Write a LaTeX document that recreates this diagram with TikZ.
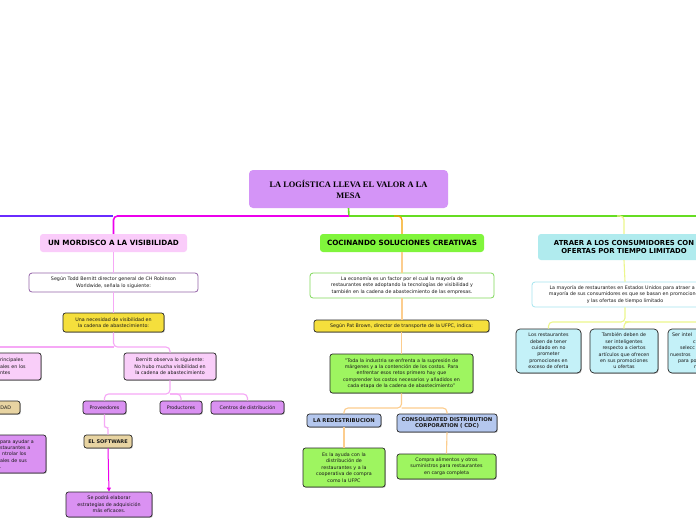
\documentclass[tikz,border=0pt]{standalone}
\usepackage{fontspec}
\setmainfont{DejaVu Sans}
\newfontfamily\titlefont{Liberation Serif}
\usetikzlibrary{shadows,arrows.meta}
\definecolor{rootfill}{RGB}{212,148,247}
\definecolor{pinkhead}{RGB}{250,204,250}
\definecolor{pinkbox}{RGB}{249,206,249}
\definecolor{purplebox}{RGB}{218,145,242}
\definecolor{tanbox}{RGB}{232,212,162}
\definecolor{yelbox}{RGB}{245,223,60}
\definecolor{greenhead}{RGB}{128,245,60}
\definecolor{greenbox}{RGB}{158,245,96}
\definecolor{bluebox}{RGB}{180,199,238}
\definecolor{cyanhead}{RGB}{176,235,238}
\definecolor{cyanbox}{RGB}{196,241,248}
\definecolor{lviolet}{RGB}{106,43,255}
\definecolor{lmag}{RGB}{236,0,236}
\definecolor{lpink}{RGB}{246,168,246}
\definecolor{lgreen}{RGB}{102,221,34}
\definecolor{lorange}{RGB}{245,160,0}
\definecolor{llorange}{RGB}{252,205,142}
\definecolor{lyellow}{RGB}{236,246,140}
\definecolor{bpurple}{RGB}{148,100,168}
\definecolor{bgreen}{RGB}{128,216,90}
\definecolor{bcyan}{RGB}{166,229,238}
\tikzset{
  txt/.style={font=\fontsize{4.8}{6.4}\selectfont, text=black!90, align=center, inner sep=1.5pt},
  head/.style={font=\bfseries\fontsize{7.2}{8.6}\selectfont, text=black, align=center, rounded corners=3pt, inner sep=1pt},
  dbox/.style={txt, rounded corners=2.5pt, draw=black!85, line width=0.7pt,
    drop shadow={shadow xshift=0.8pt, shadow yshift=-0.8pt, opacity=0.45, fill=black!60}},
  wbox/.style={txt, rounded corners=3pt, fill=white, line width=0.8pt},
  lbl/.style={font=\bfseries\fontsize{5.3}{6.5}\selectfont, text=black!90},
  mainline/.style={line width=1.6pt},
  brline/.style={line width=1.3pt, rounded corners=4pt},
  subline/.style={line width=1.1pt, rounded corners=4pt},
}
\begin{document}
\begin{tikzpicture}[x=1pt,y=-1pt]
\useasboundingbox (0,0) rectangle (696,520);
\clip (0,0) rectangle (696,520);
\fill[white] (0,0) rectangle (696,520);

% ---------- root ----------
\node[fill=rootfill, rounded corners=4pt, minimum width=199pt, minimum height=38pt,
  font=\titlefont\bfseries\fontsize{8.4}{11}\selectfont, align=center, inner sep=0pt]
  (root) at (348.5,189) {LA LOGÍSTICA LLEVA EL VALOR A LA\\MESA};

% ---------- main line ----------
\coordinate (j0) at (349,216);
\coordinate (jl) at (113,216);
\coordinate (jlo) at (-5,216);
\coordinate (jro) at (705,216);
\coordinate (j2) at (394,216);
\coordinate (j3) at (617,216);

% ---------- branch 1 nodes ----------
\node[head, fill=pinkhead, minimum width=147pt, minimum height=18pt] (h1) at (113.5,243) {UN MORDISCO A LA VISIBILIDAD};
\node[wbox, draw=bpurple, minimum width=169pt, minimum height=19pt] (n11) at (113.5,282.5)
  {Según Todd Bernitt director general de CH Robinson\\Worldwide, señala lo siguiente:};
\node[dbox, fill=yelbox, minimum width=101pt, minimum height=19pt] (n12) at (113.5,322.5)
  {Una necesidad de visibilidad en\\la cadena de abastecimiento:};
\node[dbox, fill=pinkbox, minimum width=45pt, minimum height=27pt, text width=37pt, align=left, inner xsep=4pt] (n13) at (18.5,366.5)
  {rincipales\\ales en los\\ntes};
\node[dbox, fill=pinkbox, minimum width=92pt, minimum height=27pt] (bern) at (170,366.5)
  {Bernitt observa lo siguiente:\\No hubo mucha visibilidad en\\la cadena de abastecimiento};
\node[dbox, fill=tanbox, minimum width=25pt, minimum height=13pt, text width=17pt, align=left, inner xsep=4pt] (idad) at (7.5,407.5) {IDAD};
\node[dbox, fill=purplebox, minimum width=43pt, minimum height=13pt] (prov) at (104.5,407.5) {Proveedores};
\node[dbox, fill=purplebox, minimum width=42pt, minimum height=13pt] (prod) at (181,407.5) {Productores};
\node[dbox, fill=purplebox, minimum width=73pt, minimum height=13pt] (cent) at (247.5,407.5) {Centros de distribución};
\node[dbox, fill=purplebox, minimum width=50pt, minimum height=38pt, text width=42pt, align=left, inner xsep=4pt] (lpur) at (21,454)
  {para ayudar a\\staurantes a\\\hspace*{2pt}ntrolar los\\ales de sus\\.};
\node[dbox, fill=tanbox, minimum width=48pt, minimum height=13pt, font=\fontsize{5}{6}\selectfont\bfseries] (soft) at (108,441.5) {EL SOFTWARE};
\node[dbox, fill=purplebox, minimum width=86pt, minimum height=25pt] (sep) at (109,504.5)
  {Se podrá elaborar\\estrategias de adquisición\\más eficaces.};

% ---------- branch 2 nodes ----------
\node[head, fill=greenhead, minimum width=164pt, minimum height=18pt] (h2) at (402,243) {COCINANDO SOLUCIONES CREATIVAS};
\node[wbox, draw=bgreen, minimum width=184pt, minimum height=25pt] (n21) at (402,285.5)
  {La economía es un factor por el cual la mayoría de\\restaurantes este adoptando la tecnologías de visibilidad y\\también en la cadena de abastecimiento de las empresas.};
\node[dbox, fill=yelbox, minimum width=175pt, minimum height=12pt] (n22) at (401.5,326)
  {Según Pat Brown, director de transporte de la UFPC, indica:};
\node[dbox, fill=greenbox, minimum width=143pt, minimum height=39pt] (n23) at (401.5,373.5)
  {"Toda la industria se enfrenta a la supresión de\\márgenes y a la contención de los costos. Para\\enfrentar esos retos primero hay que\\comprender los costos necesarios y añadidos en\\cada etapa de la cadena de abastecimiento"};
\node[dbox, fill=bluebox, minimum width=74pt, minimum height=13pt, lbl] (n24) at (344,420.5) {LA REDESTRIBUCION};
\node[dbox, fill=bluebox, minimum width=100pt, minimum height=18pt, lbl] (n25) at (447,423)
  {CONSOLIDATED DISTRIBUTION\\CORPORATION ( CDC)};
\node[dbox, fill=greenbox, minimum width=82pt, minimum height=39pt] (n26) at (344,467.5)
  {Es la ayuda con la\\distribución de\\restaurantes y a la\\cooperativa de compra\\como la UFPC};
\node[dbox, fill=greenbox, minimum width=99pt, minimum height=25pt] (n27) at (446.5,466.5)
  {Compra alimentos y otros\\suministros para restaurantes\\en carga completa};

% ---------- branch 3 nodes ----------
\node[head, fill=cyanhead, minimum width=172pt, minimum height=26pt, font=\bfseries\fontsize{6.9}{8.6}\selectfont] (h3) at (624,247)
  {ATRAER A LOS CONSUMIDORES CON\\OFERTAS POR TIEMPO LIMITADO};
\node[wbox, draw=bcyan, minimum width=186pt, minimum height=25pt] (n31) at (625,294.5)
  {La mayoría de restaurantes en Estados Unidos para atraer a la\\mayoría de sus consumidores es que se basan en promociones\\y las ofertas de tiempo limitado};
\node[dbox, fill=cyanbox, rounded corners=4pt, minimum width=65pt, minimum height=44pt] (c1) at (548.5,351)
  {Los restaurantes\\deben de tener\\cuidado en no\\prometer\\promociones en\\exceso de oferta};
\node[dbox, fill=cyanbox, rounded corners=4pt, minimum width=68pt, minimum height=44pt] (c2) at (624,351)
  {También deben de\\ser inteligentes\\respecto a ciertos\\artículos que ofrecen\\en sus promociones\\u ofertas};
\node[dbox, fill=cyanbox, rounded corners=4pt, minimum width=68pt, minimum height=44pt, text width=64pt, align=left, inner xsep=2pt] (c3) at (702,351)
  {\hspace*{2pt}Ser intel\\\hspace*{23pt}c\\\hspace*{10pt}selecc\\nuestros\\\hspace*{8pt}para po\\\hspace*{24pt}n};

% ---------- connectors ----------
\draw[mainline, lgreen] (root.south) -- (j0);
\draw[mainline, lviolet] (jl) -- (jlo);
\draw[mainline, lmag, rounded corners=4pt] (j0) -| (h1.north);
\draw[mainline, lgreen] (j0) -- (jro);
\draw[brline, lorange] (j2) -| (h2.north);
\draw[brline, lyellow] (j3) -| (h3.north);

% branch 1
\coordinate (s1) at (113.5,347);
\coordinate (s1o) at (-5,347);
\coordinate (s2) at (170,394);
\draw[subline, lpink] (h1.south) -- (n11.north);
\draw[subline, lpink] (n11.south) -- (n12.north);
\draw[subline, lpink] (n12.south) -- (s1) -| (bern.north);
\draw[subline, lpink] (s1) -- (s1o);
\draw[subline, lpink] (bern.south) -- (s2) -| (prov.north);
\draw[subline, lpink] (s2) -| (prod.north);
\draw[subline, lpink] (s2) -| (cent.north);
\draw[subline, lpink, rounded corners=2pt] (prov.south) -- ++(0,13) -| (soft.north);
\draw[line width=1pt, lmag, -{Triangle[length=4pt,width=4pt]}] (soft.south) -- (sep.north);

% branch 2
\coordinate (s3) at (401.5,408);
\draw[subline, llorange] (h2.south) -- (n21.north);
\draw[subline, llorange] (n21.south) -- (n21.south |- n22.north);
\draw[subline, llorange] (n22.south) -- (n23.north);
\draw[subline, llorange] (n23.south) -- (s3) -| (n24.north);
\draw[subline, llorange] (s3) -| (n25.north);
\draw[subline, llorange] (n24.south) -- (n26.north);
\draw[subline, llorange] (n25.south) -- (n27.north);

% branch 3
\coordinate (s4) at (625,322);
\draw[subline, lyellow] (h3.south) -- (n31.north);
\draw[subline, lyellow] (n31.south) -- (s4) -| (c1.north);
\draw[subline, lyellow] (s4) -| (c2.north);
\draw[subline, lyellow] (s4) -| (c3.north);
\end{tikzpicture}
\end{document}
